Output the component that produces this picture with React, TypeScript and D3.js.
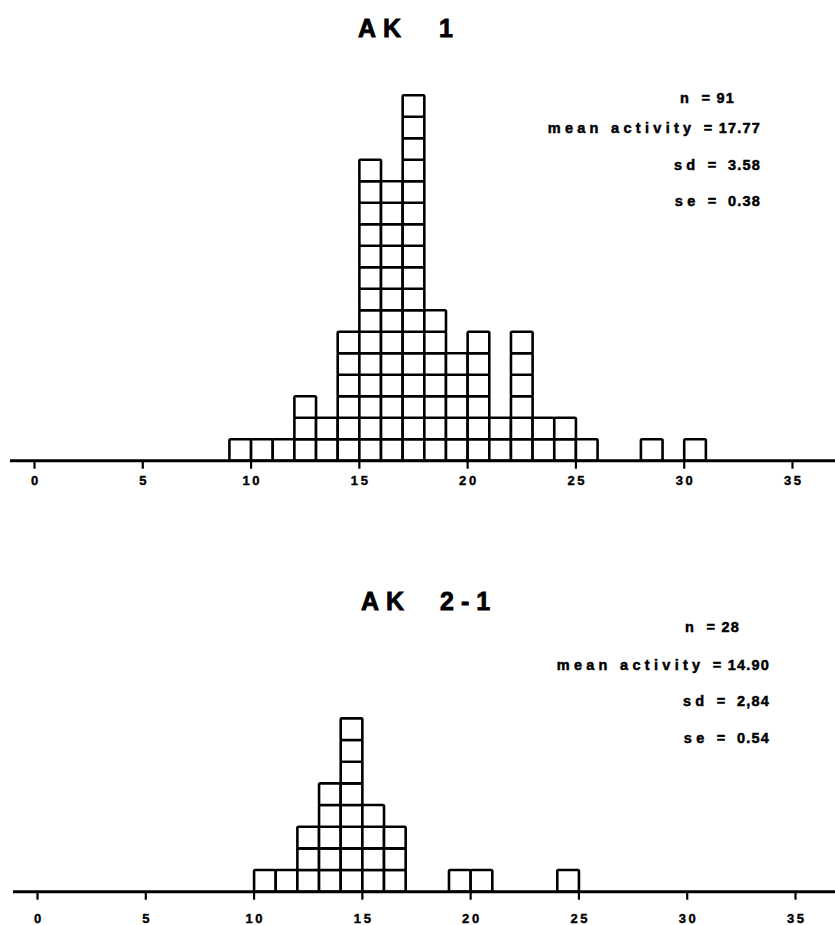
import React, { useEffect, useRef } from 'react';
import * as d3 from 'd3';

// AK 1 histogram: left edge of each 1-unit bin and number of cases in it
const ak1Bins = [9, 10, 11, 12, 13, 14, 15, 16, 17, 18, 19, 20, 21, 22, 23, 24, 25, 28, 30];
const ak1Counts = [1, 1, 1, 3, 2, 6, 14, 13, 17, 7, 5, 6, 2, 6, 2, 2, 1, 1, 1];

// AK 2-1 histogram
const ak21Bins = [10, 11, 12, 13, 14, 15, 16, 19, 20, 24];
const ak21Counts = [1, 1, 3, 5, 8, 4, 3, 1, 1, 1];

const tickValues = [0, 5, 10, 15, 20, 25, 30, 35];

const ak1Title = ['AK', '1'];
const ak21Title = ['AK', '2-1'];

const ak1Stats = [
    ['n', '= 91'],
    ['mean activity', '= 17.77'],
    ['sd', '=  3.58'],
    ['se', '=  0.38'],
];
const ak21Stats = [
    ['n', '= 28'],
    ['mean activity', '= 14.90'],
    ['sd', '=  2,84'],
    ['se', '=  0.54'],
];

const FONT = '"Liberation Sans", Arial, sans-serif';

const App = () => {
    const ref = useRef<SVGSVGElement>(null);

    useEffect(() => {
        const svg = d3.select(ref.current);
        svg.selectAll('*').remove();

        const panels = [
            {
                bins: ak1Bins, counts: ak1Counts, title: ak1Title, stats: ak1Stats,
                xRange: [34.5, 792.5], base: 460.7, unit: 21.5, axisStart: 10,
                titleX: [358, 439], titleY: 37,
                statsRight: 761, nRight: 735, statsY: [103, 133, 170, 206],
                labelY: 484.5,
            },
            {
                bins: ak21Bins, counts: ak21Counts, title: ak21Title, stats: ak21Stats,
                xRange: [37.5, 795.5], base: 891.7, unit: 21.67, axisStart: 13,
                titleX: [361, 440], titleY: 610,
                statsRight: 770, nRight: 740, statsY: [632, 670, 706, 743],
                labelY: 923,
            },
        ];

        panels.forEach((p) => {
            const g = svg.append('g');
            const x = d3.scaleLinear().domain([0, 35]).range(p.xRange);
            const maxCount = d3.max(p.counts) as number;
            const y = d3.scaleLinear().domain([0, maxCount]).range([p.base, p.base - maxCount * p.unit]);

            // one square per case, stacked in each bin
            const boxes = p.bins.flatMap((b, i) => d3.range(p.counts[i]).map((k) => ({ bin: b, level: k })));

            g.selectAll('rect.box')
                .data(boxes)
                .enter()
                .append('rect')
                .attr('class', 'box')
                .attr('x', (d) => x(d.bin))
                .attr('y', (d) => y(d.level + 1))
                .attr('width', x(1) - x(0))
                .attr('height', y(0) - y(1))
                .attr('rx', 1.2)
                .attr('fill', '#fff')
                .attr('stroke', '#000')
                .attr('stroke-width', 2.6);

            // baseline
            g.append('line')
                .attr('x1', p.axisStart)
                .attr('x2', 835)
                .attr('y1', p.base)
                .attr('y2', p.base)
                .attr('stroke', '#000')
                .attr('stroke-width', 3);

            // ticks below the axis
            g.selectAll('line.tick')
                .data(tickValues)
                .enter()
                .append('line')
                .attr('class', 'tick')
                .attr('x1', (d) => x(d))
                .attr('x2', (d) => x(d))
                .attr('y1', p.base)
                .attr('y2', p.base + 8)
                .attr('stroke', '#000')
                .attr('stroke-width', 2.2);

            g.selectAll('text.tlabel')
                .data(tickValues)
                .enter()
                .append('text')
                .attr('class', 'tlabel')
                .attr('x', (d) => x(d) + 1.3)
                .attr('y', p.labelY)
                .attr('text-anchor', 'middle')
                .attr('font-family', FONT)
                .attr('font-weight', 'bold')
                .attr('font-size', 13)
                .attr('letter-spacing', 2.6)
                .attr('stroke', '#000')
                .attr('stroke-width', 0.4)
                .text((d) => d);

            // title
            const t = g.append('text')
                .attr('y', p.titleY)
                .attr('font-family', FONT)
                .attr('font-weight', 'bold')
                .attr('font-size', 25)
                .attr('letter-spacing', 7)
                .attr('stroke', '#000')
                .attr('stroke-width', 0.8);
            p.title.forEach((s, i) => {
                t.append('tspan').attr('x', p.titleX[i]).text(s);
            });

            // statistics block
            p.stats.forEach(([label, value], i) => {
                const line = g.append('text')
                    .attr('x', i === 0 ? p.nRight : p.statsRight)
                    .attr('y', p.statsY[i])
                    .attr('text-anchor', 'end')
                    .attr('font-family', FONT)
                    .attr('font-weight', 'bold')
                    .attr('font-size', 14.5)
                    .attr('stroke', '#000')
                    .attr('stroke-width', 0.5)
                    .style('white-space', 'pre');
                line.append('tspan').attr('letter-spacing', 4.3).text(label + ' ');
                line.append('tspan').attr('letter-spacing', 1.2).text(value);
            });
        });
    }, []);

    return (
        <svg
            ref={ref}
            width={835}
            height={925}
            style={{ position: 'absolute', left: 0, top: 0, background: '#fff' }}
        />
    );
};

export default App;
